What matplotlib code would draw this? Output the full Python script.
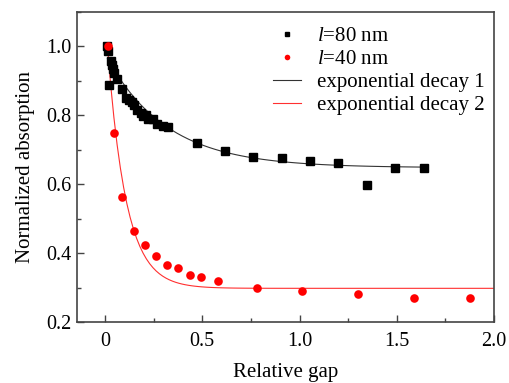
import numpy as np
import matplotlib
matplotlib.use("Agg")
import matplotlib.pyplot as plt
from matplotlib.ticker import MultipleLocator

################
# DATA
################
# l = 80 nm measurements (relative gap, normalized absorption)
gap_80 = [0.012, 0.017, 0.022, 0.031, 0.038, 0.043, 0.048, 0.063, 0.089, 0.106,
          0.123, 0.137, 0.149, 0.166, 0.183, 0.194, 0.211, 0.223, 0.245, 0.269,
          0.296, 0.325, 0.471, 0.617, 0.762, 0.910, 1.055, 1.199, 1.346, 1.492, 1.638]
abs_80 = [1.000, 0.986, 0.887, 0.957, 0.947, 0.933, 0.923, 0.906, 0.877, 0.849,
          0.844, 0.838, 0.829, 0.815, 0.808, 0.798, 0.800, 0.788, 0.790, 0.774,
          0.769, 0.766, 0.719, 0.695, 0.678, 0.675, 0.667, 0.661, 0.598, 0.648, 0.648]

# l = 40 nm measurements
gap_40 = [0.017, 0.046, 0.089, 0.147, 0.206, 0.262, 0.320, 0.377, 0.437, 0.493,
          0.581, 0.781, 1.012, 1.300, 1.588, 1.876]
abs_40 = [1.000, 0.750, 0.563, 0.465, 0.423, 0.391, 0.366, 0.356, 0.337, 0.332,
          0.318, 0.300, 0.289, 0.281, 0.271, 0.270]

# exponential decay fits: y = y0 + A*exp(-x/t)
fit1 = {"y0": 0.648, "A": 0.33, "t": 0.31, "x_start": 0.012, "x_end": 1.638}
fit2 = {"y0": 0.298, "A": 0.80, "t": 0.095, "x_start": 0.012, "x_end": 2.0}

x_ticks = [0, 0.5, 1.0, 1.5, 2.0]
x_tick_labels = ["0", "0.5", "1.0", "1.5", "2.0"]
y_ticks = [0.2, 0.4, 0.6, 0.8, 1.0]

################
# STYLE
################
plt.rcParams["font.family"] = ["Liberation Serif", "DejaVu Serif"]
plt.rcParams["mathtext.fontset"] = "custom"
plt.rcParams["mathtext.rm"] = "Liberation Serif"
plt.rcParams["mathtext.it"] = "Liberation Serif:italic"
plt.rcParams["font.size"] = 14.5


def decay(fit, n=60):
    '''
    Return x and y of the fitted exponential decay curve.
    '''
    x = np.linspace(fit["x_start"], fit["x_end"], n)
    return x, fit["y0"] + fit["A"] * np.exp(-x / fit["t"])


fig = plt.figure(figsize=(5.09, 3.83), dpi=100)
ax = fig.add_axes([0.151, 0.159, 0.8195, 0.81])

# data points
ax.plot(gap_80, abs_80, "s", color="black", ms=5.5, label=r"$\it{l}$=80 nm", zorder=3)
ax.plot(gap_40, abs_40, "o", color="#ff0000", ms=6.2, mec="none", label=r"$\it{l}$=40 nm", zorder=3)

# fitted curves
x1, y1 = decay(fit1)
x2, y2 = decay(fit2, n=120)
ax.plot(x1, y1, color="#333333", lw=0.8, label="exponential decay 1")
ax.plot(x2, y2, color="#ff3030", lw=0.8, label="exponential decay 2")

# axes
ax.set_xlim(-0.145, 2.0)
ax.set_ylim(0.2, 1.1)
ax.set_xticks(x_ticks)
ax.set_xticklabels(x_tick_labels)
ax.set_yticks(y_ticks)
ax.xaxis.set_minor_locator(MultipleLocator(0.25))
ax.yaxis.set_minor_locator(MultipleLocator(0.1))
ax.tick_params(which="both", direction="in", top=False, right=False, color="#444444")
ax.tick_params(which="major", length=5, width=1)
ax.tick_params(which="minor", length=3, width=1)
ax.tick_params(axis="x", pad=7)
ax.tick_params(axis="y", pad=4)
for s in ax.spines.values():
    s.set_linewidth(1.2)
    s.set_color("#444444")

ax.set_xlabel("Relative gap", fontsize=15, labelpad=8.5)
ax.set_ylabel("Normalized absorption", fontsize=15, labelpad=8)

# legend
ax.legend(loc="upper left", bbox_to_anchor=(0.47, 0.953), frameon=False,
          fontsize=15, markerscale=0.65, handlelength=1.35, handletextpad=0.75,
          labelspacing=0.17, borderpad=0, borderaxespad=0)

fig.savefig("out.png", dpi=100)
